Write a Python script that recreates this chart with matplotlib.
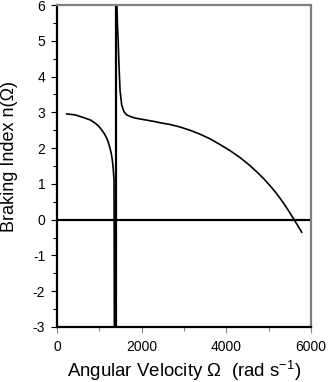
import matplotlib
matplotlib.use("Agg")
import matplotlib.pyplot as plt
from matplotlib.ticker import MultipleLocator

plt.rcParams['font.family'] = ['Liberation Sans', 'DejaVu Sans']
plt.rcParams['mathtext.fontset'] = 'custom'
plt.rcParams['mathtext.rm'] = 'Liberation Sans'
plt.rcParams['mathtext.it'] = 'Liberation Sans'
plt.rcParams['axes.unicode_minus'] = False

# left branch (below the resonance)
omega_left = [229, 425, 661, 800, 898, 980, 1055, 1120, 1174, 1215, 1252, 1282, 1307, 1331, 1347, 1352, 1355]
n_left = [2.955, 2.93, 2.84, 2.78, 2.70, 2.62, 2.51, 2.40, 2.28, 2.15, 2.0, 1.85, 1.67, 1.39, 1.11, -1.0, -3.0]
# right branch (above the resonance)
omega_right = [1415, 1430, 1445, 1465, 1490, 1528, 1580, 1646, 1740, 1843, 2080, 2315, 2433, 2670,
               2906, 3140, 3378, 3615, 3851, 4087, 4324, 4520, 4717, 4880, 5032, 5160, 5268, 5370,
               5465, 5570, 5680, 5780]
n_right = [6.0, 5.4, 5.0, 4.3, 3.6, 3.21, 3.02, 2.93, 2.88, 2.84, 2.79, 2.74, 2.71, 2.66,
           2.59, 2.50, 2.39, 2.26, 2.10, 1.93, 1.735, 1.55, 1.34, 1.15, 0.95, 0.77, 0.60, 0.43,
           0.26, 0.06, -0.15, -0.35]
omega_res = 1385

fig = plt.figure(figsize=(3.3, 3.82), dpi=100)
ax = fig.add_axes([0.1727, 0.144, 0.7697, 0.8429])

ax.plot(omega_left, n_left, color='black', lw=1.2)
ax.plot(omega_right, n_right, color='black', lw=1.2)
ax.axvline(omega_res, color='black', lw=1.6)
ax.axhline(0, color='black', lw=1.6)

ax.set_xlim(0, 6000)
ax.set_ylim(-3, 6)
ax.xaxis.set_major_locator(MultipleLocator(2000))
ax.xaxis.set_minor_locator(MultipleLocator(1000))
ax.yaxis.set_major_locator(MultipleLocator(1))
ax.yaxis.set_minor_locator(MultipleLocator(0.5))
ax.tick_params(which='both', direction='out', length=4.5, width=0.8, labelsize=10, pad=3)
ax.tick_params(which='minor', length=3)
ax.tick_params(axis='x', which='both', colors='#888888', labelcolor='black', pad=5)
ax.tick_params(axis='y', which='both', pad=4)

for s in ['left', 'bottom']:
    ax.spines[s].set_color('black')
    ax.spines[s].set_linewidth(1.6)
for s in ['top', 'right']:
    ax.spines[s].set_color('#808080')
    ax.spines[s].set_linewidth(1.6)

ax.set_xlabel('Angular Velocity \u03a9  (rad s$^{-1}$)', fontsize=13.4)
ax.set_ylabel('Braking Index n(\u03a9)', fontsize=13)
ax.xaxis.set_label_coords(0.5, -0.1)
ax.yaxis.set_label_coords(-0.155, 0.528)

fig.savefig('out.png', dpi=100)
